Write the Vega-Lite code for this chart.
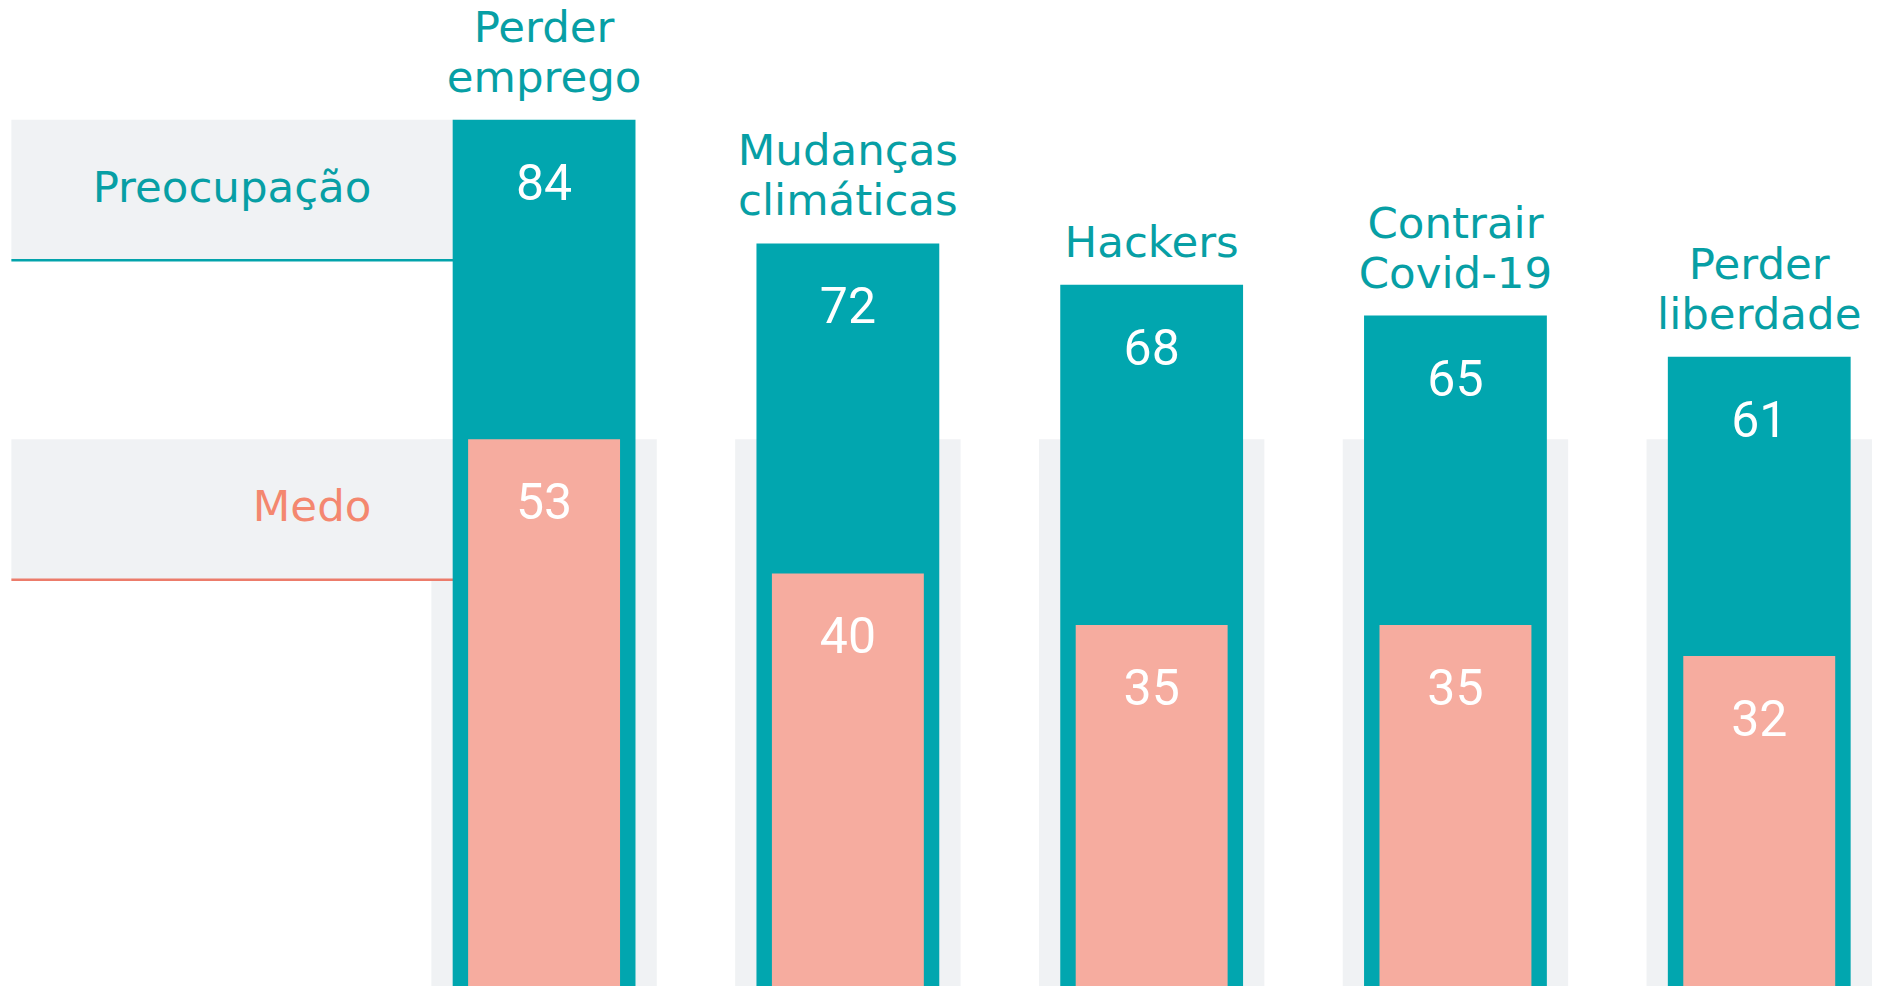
{
  "$schema": "https://vega.github.io/schema/vega-lite/v6.json",
  "width": 1899,
  "height": 986,
  "padding": 0,
  "autosize": {"type": "fit", "contains": "padding"},
  "background": "white",
  "config": {"view": {"stroke": null}},
  "data": {
    "values": [
      {"categoria": "Perder emprego", "Preocupação": 84, "Medo": 53},
      {"categoria": "Mudanças climáticas", "Preocupação": 72, "Medo": 40},
      {"categoria": "Hackers", "Preocupação": 68, "Medo": 35},
      {"categoria": "Contrair Covid-19", "Preocupação": 65, "Medo": 35},
      {"categoria": "Perder liberdade", "Preocupação": 61, "Medo": 32}
    ]
  },
  "transform": [{"fold": ["Preocupação", "Medo"], "as": ["serie", "valor"]}],
  "layer": [
    {
      "transform": [
        {"filter": "datum.serie === 'Medo'"},
        {"joinaggregate": [{"op": "max", "field": "valor", "as": "topo"}]}
      ],
      "mark": {"type": "bar", "color": "#F0F2F4", "width": {"band": 1}},
      "encoding": {
        "x": {"field": "categoria", "type": "nominal", "sort": null, "axis": null,
              "scale": {"type": "band", "paddingInner": 0.258, "paddingOuter": 0.7545, "align": 0.941}},
        "y": {"field": "topo", "type": "quantitative", "axis": null,
              "scale": {"domain": [0, 95.6], "nice": false, "zero": true}},
        "y2": {"datum": 0}
      }
    },
    {
      "transform": [{"aggregate": [{"op": "max", "field": "valor", "as": "topo"}], "groupby": ["serie"]}],
      "mark": {"type": "rect", "color": "#F0F2F4", "xOffset": -420, "x2Offset": 30, "y2Offset": 140.5},
      "encoding": {
        "x": {"datum": "Perder emprego", "bandPosition": 0},
        "x2": {"datum": "Perder emprego", "bandPosition": 0},
        "y": {"field": "topo", "type": "quantitative"},
        "y2": {"field": "topo"}
      }
    },
    {
      "transform": [{"aggregate": [{"op": "max", "field": "valor", "as": "topo"}], "groupby": ["serie"]}],
      "mark": {"type": "rule", "strokeWidth": 2.5, "xOffset": -420, "x2Offset": 30, "yOffset": 140.5},
      "encoding": {
        "x": {"datum": "Perder emprego", "bandPosition": 0},
        "x2": {"datum": "Perder emprego", "bandPosition": 0},
        "y": {"field": "topo", "type": "quantitative"},
        "color": {"condition": {"test": "datum.serie === 'Medo'", "value": "#EC7C6B"}, "value": "#03A3AB"}
      }
    },
    {
      "transform": [{"aggregate": [{"op": "max", "field": "valor", "as": "topo"}], "groupby": ["serie"]}],
      "mark": {"type": "text", "align": "right", "baseline": "alphabetic", "font": "DejaVu Sans", "fontSize": 43.5, "xOffset": -60, "dy": 82},
      "encoding": {
        "x": {"datum": "Perder emprego", "bandPosition": 0},
        "y": {"field": "topo", "type": "quantitative"},
        "text": {"field": "serie"},
        "color": {"condition": {"test": "datum.serie === 'Medo'", "value": "#F4876F"}, "value": "#079FA5"}
      }
    },
    {
      "transform": [{"filter": "datum.serie === 'Preocupação'"}],
      "mark": {"type": "bar", "color": "#01A6AF", "width": {"band": 0.811}},
      "encoding": {
        "x": {"field": "categoria", "type": "nominal", "sort": null},
        "y": {"field": "valor", "type": "quantitative"}
      }
    },
    {
      "transform": [{"filter": "datum.serie === 'Medo'"}],
      "mark": {"type": "bar", "color": "#F6AC9F", "width": {"band": 0.674}},
      "encoding": {
        "x": {"field": "categoria", "type": "nominal", "sort": null},
        "y": {"field": "valor", "type": "quantitative"}
      }
    },
    {
      "mark": {"type": "text", "color": "white", "font": "Roboto", "fontSize": 50, "baseline": "alphabetic", "dy": 80},
      "encoding": {
        "x": {"field": "categoria", "type": "nominal", "sort": null},
        "y": {"field": "valor", "type": "quantitative"},
        "text": {"field": "valor", "type": "quantitative"}
      }
    },
    {
      "transform": [
        {"filter": "datum.serie === 'Preocupação'"},
        {"calculate": "split(datum.categoria, ' ')", "as": "linhas"},
        {"calculate": "peek(datum.linhas)", "as": "ultima"}
      ],
      "mark": {"type": "text", "color": "#079FA5", "font": "DejaVu Sans", "fontSize": 43.5, "baseline": "alphabetic", "dy": -28},
      "encoding": {
        "x": {"field": "categoria", "type": "nominal", "sort": null},
        "y": {"field": "valor", "type": "quantitative"},
        "text": {"field": "ultima"}
      }
    },
    {
      "transform": [
        {"filter": "datum.serie === 'Preocupação'"},
        {"calculate": "split(datum.categoria, ' ')", "as": "linhas"},
        {"filter": "length(datum.linhas) > 1"},
        {"calculate": "datum.linhas[0]", "as": "primeira"}
      ],
      "mark": {"type": "text", "color": "#079FA5", "font": "DejaVu Sans", "fontSize": 43.5, "baseline": "alphabetic", "dy": -78},
      "encoding": {
        "x": {"field": "categoria", "type": "nominal", "sort": null},
        "y": {"field": "valor", "type": "quantitative"},
        "text": {"field": "primeira"}
      }
    }
  ]
}
